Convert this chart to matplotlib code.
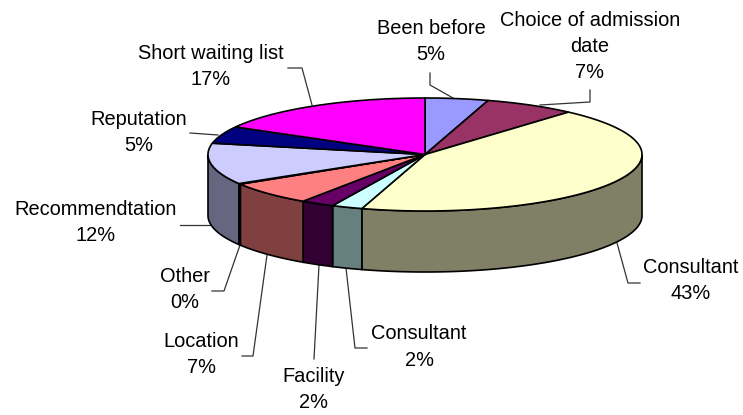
import numpy as np
import matplotlib
matplotlib.use("Agg")
import matplotlib.pyplot as plt
from matplotlib.patches import Polygon
from matplotlib.colors import to_rgb

plt.rcParams['font.family'] = ['Liberation Sans', 'DejaVu Sans']

labels = ["Been before", "Choice of admission\ndate", "Consultant", "Consultant", "Facility",
          "Location", "Other", "Recommendtation", "Reputation", "Short waiting list"]
values = [4.7, 6.8, 43.2, 2.3, 2.5, 6.7, 0.2, 11.8, 4.9, 16.9]
shown = ["5%", "7%", "43%", "2%", "2%", "7%", "0%", "12%", "5%", "17%"]
colors = ["#9999FF", "#993366", "#FFFFCC", "#CCFFFF", "#660066", "#FF8080", "#0066CC", "#CCCCFF", "#000080", "#FF00FF"]
label_pos = [(431, 41.5), (590, 46.5), (691, 280.5), (419, 347), (314, 389.5), (201, 354.5), (185, 289.5), (96, 222.5), (139, 132.5), (211, 66.5)]
leaders = [
    [(453, 98), (430, 85), (430, 73)],
    [(540, 105), (590, 102), (590, 90)],
    [(617, 243), (628, 283), (640, 283)],
    [(346, 268), (355, 348), (367, 348)],
    [(319, 265), (314, 359)],
    [(267, 255), (253, 356), (242, 356)],
    [(240, 245), (224, 291), (212, 291)],
    [(210, 225), (180, 225)],
    [(218, 135), (190, 133)],
    [(312, 105), (302, 68), (288, 68)],
]

W, H = 743, 415
cx, cy, rx, ry, depth = 425, 154.5, 217, 56.5, 61

fig = plt.figure(figsize=(W / 100, H / 100), dpi=100)
ax = fig.add_axes([0, 0, 1, 1])
ax.set_xlim(0, W)
ax.set_ylim(H, 0)
ax.axis("off")

def pt(a, dy=0):
    r = np.radians(a)
    return cx + rx * np.sin(r), cy - ry * np.cos(r) + dy

def arc(a0, a1, dy=0):
    ts = np.linspace(a0, a1, max(2, int(abs(a1 - a0)) * 2 + 2))
    return np.column_stack(pt(ts, dy))

edges = np.concatenate([[0], np.cumsum(values)]) / sum(values) * 360

for i in range(len(values)):
    lo, hi = max(edges[i], 90), min(edges[i + 1], 270)
    if hi > lo:
        top = arc(lo, hi)
        bot = arc(lo, hi, depth)[::-1]
        side = tuple(c * 0.5 for c in to_rgb(colors[i]))
        ax.add_patch(Polygon(np.vstack([top, bot]), closed=True, fc=side, ec="black", lw=1.2, zorder=2))

for i in range(len(values)):
    poly = np.vstack([[cx, cy], arc(edges[i], edges[i + 1])])
    ax.add_patch(Polygon(poly, closed=True, fc=colors[i], ec="black", lw=1.2, zorder=3))

for i, path in enumerate(leaders):
    xs, ys = zip(*path)
    ax.plot(xs, ys, color="#333333", lw=0.9, zorder=1)
    ax.text(label_pos[i][0], label_pos[i][1], labels[i] + "\n" + shown[i], ha="center", va="center",
            fontsize=14.4, color="black", linespacing=1.47, zorder=5)

fig.savefig("out.png", dpi=100, facecolor="white")
